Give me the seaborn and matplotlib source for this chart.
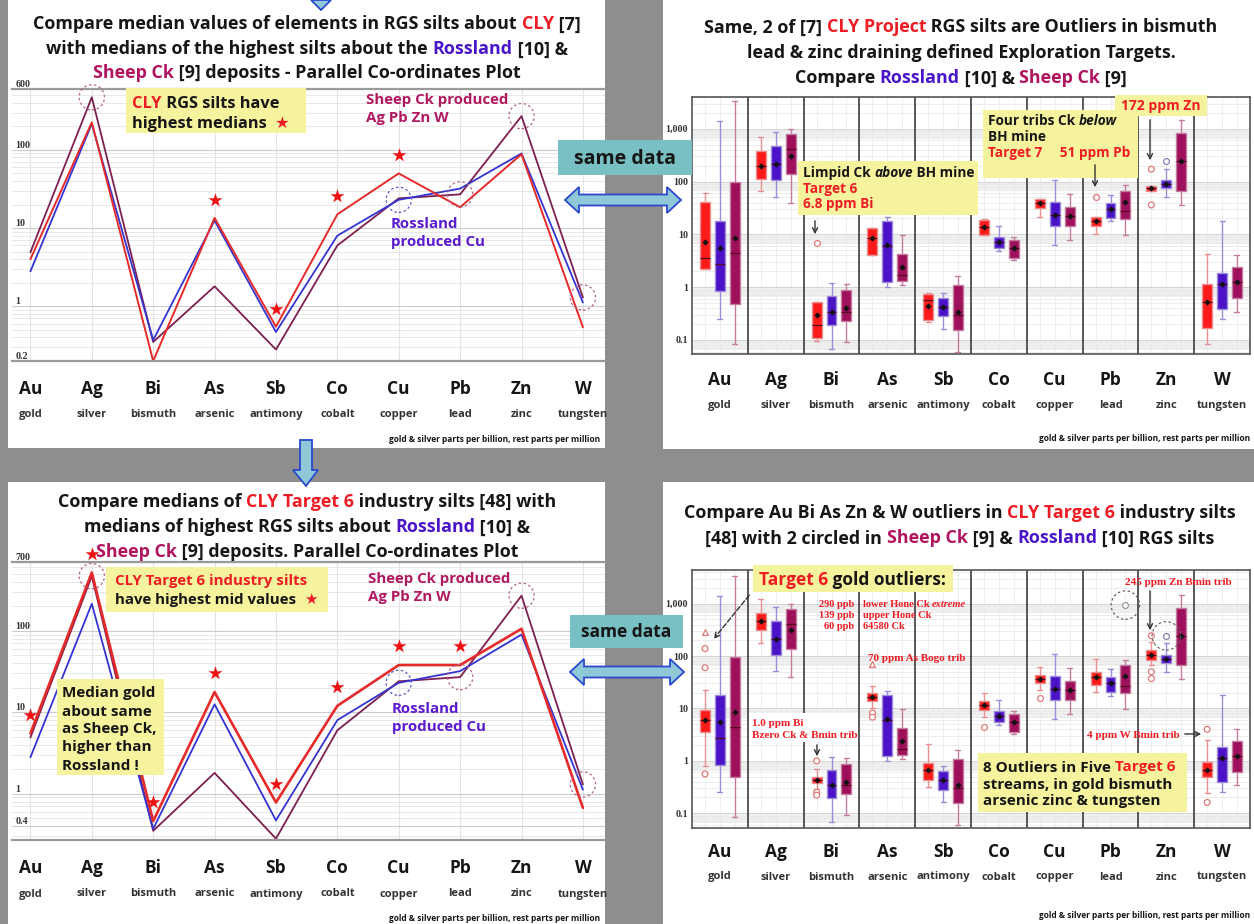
import numpy as np
import pandas as pd
import matplotlib
matplotlib.use("Agg")
import matplotlib.pyplot as plt
import seaborn as sns
from matplotlib.patches import Rectangle, Polygon, FancyArrowPatch
from matplotlib.transforms import blended_transform_factory
from matplotlib.ticker import FixedLocator, NullFormatter, LogLocator

# ---- values ----
elements = ["Au", "Ag", "Bi", "As", "Sb", "Co", "Cu", "Pb", "Zn", "W"]
element_names = ["gold", "silver", "bismuth", "arsenic", "antimony",
                 "cobalt", "copper", "lead", "zinc", "tungsten"]
sites = ["CLY", "Rossland", "Sheep Ck"]

# medians used in the parallel co-ordinates panels
cly_rgs_median = [4.0, 225, 0.2, 13.5, 0.55, 15, 50, 18.5, 88, 0.54]
cly_t6_median = [5.5, 520, 0.46, 17.7, 0.78, 12, 38, 38, 106, 0.67]
rossland_median = [2.8, 215, 0.37, 12.5, 0.47, 8.0, 23, 32, 90, 1.12]
sheep_median = [4.9, 470, 0.35, 1.8, 0.28, 6.0, 24, 27, 270, 1.3]

# box plots: whisker low, Q1, median, Q3, whisker high
cly_rgs_box = [[2.2, 2.2, 3.6, 41, 60], [66, 110, 198, 380, 690],
               [0.095, 0.11, 0.195, 0.53, 0.53], [4.0, 4.0, 8.4, 13.4, 13.4],
               [0.22, 0.24, 0.56, 0.73, 0.78], [9.6, 9.6, 13.6, 19, 19.5],
               [21, 31.6, 39, 47.5, 47.5], [10.2, 14.2, 17.6, 21, 21],
               [66, 66, 75, 81, 81], [0.083, 0.17, 0.53, 1.16, 4.3]]
cly_t6_box = [[0.8, 3.5, 5.9, 9.2, 22], [177, 318, 460, 660, 1230],
              [0.29, 0.37, 0.43, 0.49, 0.69], [10.2, 14, 16.7, 19.6, 27],
              [0.32, 0.43, 0.68, 0.89, 2.1], [6.9, 9.3, 11.6, 14, 19.4],
              [22.4, 30, 36, 43, 61], [21, 28, 39, 50, 87],
              [67, 83, 106, 130, 187], [0.24, 0.49, 0.68, 0.96, 2.5]]
rossland_box = [[0.25, 0.84, 2.7, 18, 1420], [52, 106, 215, 475, 875],
                [0.068, 0.195, 0.34, 0.67, 1.2], [1.0, 1.24, 6.0, 18, 21.6],
                [0.16, 0.28, 0.42, 0.63, 0.78], [4.8, 5.5, 7.1, 8.8, 14.2],
                [6.4, 14.2, 23.6, 41, 109], [17.6, 20.5, 30, 39, 56],
                [50, 74, 89, 106, 174], [0.25, 0.39, 1.14, 1.84, 17.7]]
sheep_box = [[0.084, 0.48, 4.5, 98, 3400], [39, 138, 410, 790, 985],
             [0.092, 0.23, 0.34, 0.88, 1.15], [1.09, 1.3, 1.7, 4.2, 9.6],
             [0.06, 0.155, 0.30, 1.1, 1.6], [3.3, 3.55, 5.5, 7.9, 8.8],
             [7.9, 14.2, 22, 33, 58], [9.6, 19.6, 27.3, 66, 85],
             [36, 67, 243, 835, 1450], [0.34, 0.61, 1.24, 2.36, 4.1]]

cly_rgs_mean = [7.1, 198, 0.29, 8.4, 0.44, 13.6, 39, 17.6, 75, 0.53]
cly_t6_mean = [5.9, 460, 0.43, 16.7, 0.68, 11.6, 36, 39, 106, 0.68]
rossland_mean = [5.6, 213, 0.34, 6.3, 0.42, 7.1, 23.6, 30, 89, 1.14]
sheep_mean = [8.4, 310, 0.40, 2.4, 0.34, 5.5, 22, 41, 243, 1.24]

cly_rgs_outliers = [("Bi", 6.8), ("Pb", 51), ("Zn", 172), ("Zn", 36)]
cly_t6_outliers = [("Au", 139), ("Au", 60), ("Au", 0.56), ("Bi", 1.0), ("Bi", 0.25),
                   ("Bi", 0.22), ("As", 8.1), ("As", 6.8), ("Co", 4.5), ("Cu", 15.5),
                   ("Zn", 245), ("Zn", 50), ("Zn", 37), ("W", 4.0), ("W", 0.16)]
cly_t6_extremes = [("Au", 290), ("As", 70)]
rossland_outliers = [("Zn", 243)]
sheep_outliers = [("Pb", 940)]

# ---- styling ----
W, H = 1254, 924
RED, BLUE, MAROON, BLACK = "#ee1c24", "#4a14c8", "#b0145e", "#161616"
FONT = ["Open Sans", "DejaVu Sans"]
line_colors = {"CLY": "#e62a2a", "Rossland": "#3434d2", "Sheep Ck": "#7d1f50"}
box_colors = {"CLY": "#ff1a1a", "Rossland": "#4b12c8", "Sheep Ck": "#9e0f5c"}
whisker_colors = {"CLY": "#e98f8f", "Rossland": "#9d8dd8", "Sheep Ck": "#c47c9e"}
flier_colors = {"CLY": "#e07a7a", "Rossland": "#8a80b0", "Sheep Ck": "#999999"}
circle_colors = {"Rossland": "#5a5ac8", "Sheep Ck": "#b2648a"}
YELLOW = "#f6f39e"

sns.set_theme(style="white")
plt.rcParams["font.family"] = FONT

fig = plt.figure(figsize=(W / 100, H / 100), dpi=100, facecolor="#8e8e8e")
renderer = fig.canvas.get_renderer()


def fx(x):
    return x / W


def fy(y):
    return 1 - y / H


def make_axes(x0, y0, x1, y1):
    return fig.add_axes([fx(x0), fy(y1), (x1 - x0) / W, (y1 - y0) / H])


def rect(x0, y0, x1, y1, color, z):
    fig.add_artist(Rectangle((fx(x0), fy(y1)), (x1 - x0) / W, (y1 - y0) / H,
                             transform=fig.transFigure, facecolor=color,
                             edgecolor="none", zorder=z))


def piece_width(s, size, style, family):
    t = fig.text(0, 0, s + "|", fontsize=size, fontweight="bold", fontstyle=style, family=family)
    w = t.get_window_extent(renderer).width
    t.set_text("|")
    w -= t.get_window_extent(renderer).width
    t.remove()
    return w


def rich(x, y, pieces, size, ha="left", family=FONT, z=6):
    pieces = [p if len(p) == 3 else (p[0], p[1], "normal") for p in pieces]
    widths = [piece_width(s, size, st, family) for s, c, st in pieces]
    total = sum(widths)
    if ha == "center":
        x -= total / 2
    elif ha == "right":
        x -= total
    base = y + 0.36 * size * 100 / 72
    for (s, c, st), w in zip(pieces, widths):
        fig.text(fx(x), fy(base), s, color=c, fontsize=size, fontweight="bold",
                 fontstyle=st, family=family, va="baseline", ha="left", zorder=z)
        x += w


def arrow(x0, y0, x1, y1, ls="-", color="#333333"):
    fig.add_artist(FancyArrowPatch((fx(x0), fy(y0)), (fx(x1), fy(y1)),
                                   transform=fig.transFigure, arrowstyle="->",
                                   mutation_scale=9, lw=1.0, ls=ls, color=color, zorder=6))


def shape(points, z=7):
    fig.add_artist(Polygon([(fx(a), fy(b)) for a, b in points], closed=True,
                           transform=fig.transFigure, facecolor="#8fc9d8",
                           edgecolor="#2b48d0", lw=1.3, zorder=z))


def double_arrow(x0, x1, yc, shaft=11, head=26, hl=14):
    shape([(x0, yc), (x0 + hl, yc - head / 2), (x0 + hl, yc - shaft / 2),
           (x1 - hl, yc - shaft / 2), (x1 - hl, yc - head / 2), (x1, yc),
           (x1 - hl, yc + head / 2), (x1 - hl, yc + shaft / 2),
           (x0 + hl, yc + shaft / 2), (x0 + hl, yc + head / 2)])


def element_labels(ax, sym_off, name_off):
    bt = blended_transform_factory(ax.transData, ax.transAxes)
    for i, (el, nm) in enumerate(zip(elements, element_names)):
        ax.annotate(el, (i, 0), xycoords=bt, xytext=(0, -sym_off), textcoords="offset pixels",
                    ha="center", va="center", fontsize=12.5, fontweight="bold",
                    color=BLACK, annotation_clip=False)
        ax.annotate(nm, (i, 0), xycoords=bt, xytext=(0, -name_off), textcoords="offset pixels",
                    ha="center", va="center", fontsize=8, fontweight="bold",
                    color="#333333", annotation_clip=False)


def parallel_panel(box, cly_values, ylim, ticks, tick_labels, star_elements, circled, red_lw):
    ax = make_axes(*box)
    order = ["Sheep Ck", "Rossland", "CLY"]
    long = pd.DataFrame({
        "pos": list(range(len(elements))) * 3,
        "site": np.repeat(order, len(elements)),
        "value": sheep_median + rossland_median + cly_values,
    })
    sns.lineplot(data=long, x="pos", y="value", hue="site", hue_order=order,
                 palette=line_colors, errorbar=None, linewidth=1.3, legend=False, ax=ax)
    ax.lines[-1].set_linewidth(red_lw)
    ax.set_yscale("log")
    ax.set_ylim(*ylim)
    ax.set_xlim(-0.3, 9.36)
    ax.set_xticks(range(len(elements)))
    ax.yaxis.set_major_locator(FixedLocator(ticks))
    ax.yaxis.set_minor_locator(LogLocator(subs=np.arange(2, 10)))
    ax.yaxis.set_minor_formatter(NullFormatter())
    ax.grid(axis="x", color="#e3e3e3", lw=0.8)
    ax.grid(axis="y", which="major", color="#cccccc", lw=0.8)
    ax.grid(axis="y", which="minor", color="#e4e4e4", lw=0.6)
    ax.tick_params(which="both", length=0, labelleft=False, labelbottom=False)
    ax.set_xlabel("")
    ax.set_ylabel("")
    for s in ["left", "right"]:
        ax.spines[s].set_visible(False)
    for s in ["top", "bottom"]:
        ax.spines[s].set_color("#9a9a9a")
        ax.spines[s].set_linewidth(1.6)
    yt = blended_transform_factory(ax.transAxes, ax.transData)
    for t, lab in zip(ticks, tick_labels):
        ax.text(0.006, t, lab, transform=yt, fontsize=7.2, fontweight="bold",
                family="Liberation Serif", va="bottom", ha="left", color="#333333")
    idx = [elements.index(e) for e in star_elements]
    ax.scatter(idx, [cly_values[i] * 1.7 for i in idx], marker="*", s=110,
               color="#ee1111", linewidths=0, zorder=5, clip_on=False)
    for el, site in circled:
        i = elements.index(el)
        v = (rossland_median if site == "Rossland" else sheep_median)[i]
        ax.scatter([i], [v], s=330, facecolors="none", edgecolors=circle_colors[site],
                   linestyle=(0, (2, 2)), linewidths=0.9, zorder=4, clip_on=False)
    return ax


def box_panel(box, cly_box, cly_mean, cly_fliers, cly_extremes, ylim):
    ax = make_axes(*box)
    for d in [0.1, 1, 10, 100, 1000]:
        ax.axhspan(d * 0.65, d, color="#f0f0f0", lw=0, zorder=0)
    box_sets = {"CLY": cly_box, "Rossland": rossland_box, "Sheep Ck": sheep_box}
    rows = [(el, site, v) for site in sites
            for el, five in zip(elements, box_sets[site]) for v in five]
    df = pd.DataFrame(rows, columns=["element", "site", "value"])
    for site in sites:
        sns.boxplot(data=df[df["site"] == site], x="element", y="value", hue="site",
                    order=elements, hue_order=sites, palette=box_colors, saturation=1,
                    dodge=True, width=0.8, gap=0.33, whis=(0, 100), showfliers=False,
                    linecolor=whisker_colors[site], linewidth=1.0, log_scale=True,
                    medianprops=dict(color="#5a0a1e", linewidth=0.9),
                    legend=False, ax=ax)
    means = pd.DataFrame({"element": elements * 3,
                          "site": np.repeat(sites, len(elements)),
                          "value": cly_mean + rossland_mean + sheep_mean})
    sns.stripplot(data=means, x="element", y="value", hue="site", order=elements,
                  hue_order=sites, palette={s: "#111111" for s in sites}, dodge=True,
                  jitter=False, size=3.2, marker="D", log_scale=True, legend=False,
                  ax=ax, zorder=5)
    flier_sets = {"CLY": cly_fliers, "Rossland": rossland_outliers, "Sheep Ck": sheep_outliers}
    for site in sites:
        fl = pd.DataFrame(flier_sets[site], columns=["element", "value"])
        fl["site"] = site
        sns.stripplot(data=fl, x="element", y="value", hue="site", order=elements,
                      hue_order=sites, palette={s: "white" for s in sites}, dodge=True,
                      jitter=False, size=4.2, linewidth=0.9, edgecolor=flier_colors[site],
                      log_scale=True, legend=False, ax=ax, zorder=5)
    if cly_extremes:
        ex = pd.DataFrame(cly_extremes, columns=["element", "value"])
        ex["site"] = "CLY"
        sns.stripplot(data=ex, x="element", y="value", hue="site", order=elements,
                      hue_order=sites, palette={s: "white" for s in sites}, dodge=True,
                      jitter=False, size=4.2, marker="^", linewidth=0.9,
                      edgecolor=flier_colors["CLY"], log_scale=True, legend=False,
                      ax=ax, zorder=5)
    ax.set_xlim(-0.5, 9.5)
    ax.set_ylim(*ylim)
    step = 0.8 / 3
    for i in range(len(elements)):
        for off in (-step, 0, step):
            ax.axvline(i + off, color="#ececec", lw=0.6, zorder=0)
        if i:
            ax.axvline(i - 0.5, color="#3c3c3c", lw=1.2, zorder=1)
    ax.set_yticks([0.1, 1, 10, 100, 1000])
    ax.set_yticklabels(["0.1", "1", "10", "100", "1,000"], fontsize=7.2,
                       fontweight="bold", family="Liberation Serif", color="#333333")
    ax.yaxis.set_minor_locator(LogLocator(subs=np.arange(2, 10)))
    ax.yaxis.set_minor_formatter(NullFormatter())
    ax.grid(axis="y", which="major", color="#d4d4d4", lw=0.7)
    ax.grid(axis="y", which="minor", color="#e6e6e6", lw=0.5)
    ax.grid(axis="x", visible=False)
    ax.set_xticks(range(len(elements)))
    ax.tick_params(which="both", length=0, pad=3, labelbottom=False)
    ax.set_xlabel("")
    ax.set_ylabel("")
    for s in ax.spines.values():
        s.set_color("#555555")
        s.set_linewidth(1.2)
    return ax


# ---- panel backgrounds ----
rect(8, 0, 605, 448, "white", -1)
rect(663, 0, 1254, 449, "white", -1)
rect(8, 482, 605, 924, "white", -1)
rect(663, 482, 1254, 924, "white", -1)

TS = 12.9  # title size

# ---- top left: RGS medians ----
ax_tl = parallel_panel((12, 89, 605, 361), cly_rgs_median, (0.2, 600),
                       [0.2, 1, 10, 100, 600], ["0.2", "1", "10", "100", "600"],
                       ["As", "Sb", "Co", "Cu"],
                       [("Ag", "Sheep Ck"), ("Cu", "Rossland"), ("Pb", "Sheep Ck"),
                        ("Zn", "Sheep Ck"), ("W", "Sheep Ck")], 1.4)
element_labels(ax_tl, 28, 53)
rich(307, 23, [("Compare median values of elements in RGS silts about ", BLACK), ("CLY", RED), (" [7]", BLACK)], TS, "center")
rich(307, 48, [("with medians of the highest silts about the ", BLACK), ("Rossland", BLUE), (" [10] &", BLACK)], TS, "center")
rich(307, 72, [("Sheep Ck", MAROON), (" [9] deposits - Parallel Co-ordinates Plot", BLACK)], TS, "center")
rect(126, 88, 306, 133, YELLOW, 4)
rich(132, 102, [("CLY", RED), (" RGS silts have", BLACK)], 11.8)
rich(132, 122, [("highest medians  ", BLACK), ("\u2605", RED)], 11.8)
rich(366, 99, [("Sheep Ck produced", "#b0185f")], 10.8)
rich(366, 117, [("Ag Pb Zn W", "#b0185f")], 10.8)
rich(391, 223, [("Rossland", "#5c1ad0")], 10.8)
rich(391, 241, [("produced Cu", "#5c1ad0")], 10.8)
rich(600, 439, [("gold & silver parts per billion, rest parts per million", BLACK)], 6, "right")

# ---- bottom left: Target 6 medians ----
ax_bl = parallel_panel((12, 562, 605, 840), cly_t6_median, (0.27, 700),
                       [0.4, 1, 10, 100, 700], ["0.4", "1", "10", "100", "700"],
                       ["Au", "Ag", "Bi", "As", "Sb", "Co", "Cu", "Pb"],
                       [("Ag", "Sheep Ck"), ("Cu", "Rossland"), ("Pb", "Sheep Ck"),
                        ("Zn", "Sheep Ck"), ("W", "Sheep Ck")], 1.9)
element_labels(ax_bl, 28, 54)
rich(307, 501, [("Compare medians of ", BLACK), ("CLY Target 6", RED), (" industry silts [48] with", BLACK)], TS, "center")
rich(307, 526, [("medians of highest RGS silts about ", BLACK), ("Rossland", BLUE), (" [10] &", BLACK)], TS, "center")
rich(307, 551, [("Sheep Ck", MAROON), (" [9] deposits. Parallel Co-ordinates Plot", BLACK)], TS, "center")
rect(106, 567, 328, 612, YELLOW, 4)
rich(115, 580, [("CLY Target 6 industry silts", RED)], 10.8)
rich(115, 599, [("have highest mid values  ", BLACK), ("\u2605", RED)], 10.8)
rich(368, 578, [("Sheep Ck produced", "#b0185f")], 10.8)
rich(368, 596, [("Ag Pb Zn W", "#b0185f")], 10.8)
rect(57, 679, 164, 775, YELLOW, 4)
for k, line in enumerate(["Median gold", "about same", "as Sheep Ck,", "higher than", "Rossland !"]):
    rich(62, 692 + 18 * k, [(line, BLACK)], 11)
rich(392, 708, [("Rossland", "#5c1ad0")], 10.8)
rich(392, 726, [("produced Cu", "#5c1ad0")], 10.8)
rich(600, 918, [("gold & silver parts per billion, rest parts per million", BLACK)], 6, "right")

# ---- top right: RGS box plots ----
ax_tr = box_panel((692, 97, 1250, 354), cly_rgs_box, cly_rgs_mean, cly_rgs_outliers, [], (0.054, 4000))
element_labels(ax_tr, 26, 51)
rich(961, 26, [("Same, 2 of [7] ", BLACK), ("CLY Project", RED), (" RGS silts are Outliers in bismuth", BLACK)], TS, "center")
rich(961, 52, [("lead & zinc draining defined Exploration Targets.", BLACK)], TS, "center")
rich(961, 77, [("Compare ", BLACK), ("Rossland", BLUE), (" [10] & ", BLACK), ("Sheep Ck", MAROON), (" [9]", BLACK)], TS, "center")
rect(798, 161, 978, 215, YELLOW, 4)
rich(803, 172, [("Limpid Ck ", BLACK), ("above", BLACK, "italic"), (" BH mine", BLACK)], 9.8)
rich(803, 188, [("Target 6", RED)], 9.8)
rich(803, 203, [("6.8 ppm Bi", RED)], 9.8)
arrow(815, 218, 815, 237)
rect(983, 110, 1138, 178, YELLOW, 4)
rich(988, 120, [("Four tribs Ck ", BLACK), ("below", BLACK, "italic")], 9.8)
rich(988, 136, [("BH mine", BLACK)], 9.8)
rich(988, 152, [("Target 7     51 ppm Pb", RED)], 9.8)
arrow(1095, 162, 1095, 190)
rect(1115, 95, 1207, 116, YELLOW, 4)
rich(1161, 105, [("172 ppm Zn", RED)], 10, "center")
arrow(1150, 117, 1150, 163)
rich(1250, 438, [("gold & silver parts per billion, rest parts per million", BLACK)], 6, "right")

# ---- bottom right: Target 6 box plots ----
ax_br = box_panel((692, 570, 1250, 828), cly_t6_box, cly_t6_mean, cly_t6_outliers, cly_t6_extremes, (0.052, 4400))
element_labels(ax_br, 24, 49)
step = 0.8 / 3
ax_br.scatter([elements.index("Pb") + step, elements.index("Zn")],
              [sheep_outliers[0][1], rossland_outliers[0][1]], s=420, facecolors="none",
              edgecolors="#666666", linestyle=(0, (2, 2)), linewidths=0.9, zorder=6)
rich(960, 512, [("Compare Au Bi As Zn & W outliers in ", BLACK), ("CLY Target 6", RED), (" industry silts", BLACK)], TS, "center")
rich(960, 537, [("[48] with 2 circled in ", BLACK), ("Sheep Ck", MAROON), (" [9] & ", BLACK), ("Rossland", BLUE), (" [10] RGS silts", BLACK)], TS, "center")
rect(753, 565, 953, 592, YELLOW, 4)
rich(759, 579, [("Target 6", RED), (" gold outliers:", BLACK)], 12.5)
arrow(751, 593, 712, 641, ls="--")
SERIF = ["Liberation Serif", "DejaVu Serif"]
for k, (val, where) in enumerate([("290 ppb", "lower Hone Ck "), ("139 ppb", "upper Hone Ck"), ("60 ppb", "64580 Ck")]):
    rich(854, 603 + 11 * k, [(val, RED)], 7.5, "right", family=SERIF)
    pcs = [(where, RED)] + ([("extreme", RED, "italic")] if k == 0 else [])
    rich(863, 603 + 11 * k, pcs, 7.5, family=SERIF)
rich(868, 657, [("70 ppm As Bogo trib", RED)], 8, family=SERIF)
rect(749, 713, 858, 742, "white", 4)
rich(752, 722, [("1.0 ppm Bi", RED)], 8, family=SERIF)
rich(752, 734, [("Bzero Ck & Bmin trib", RED)], 8, family=SERIF)
arrow(817, 742, 817, 759)
rich(1125, 581, [("245 ppm Zn Bmin trib", RED)], 8, family=SERIF)
arrow(1150, 588, 1150, 633)
rich(1087, 734, [("4 ppm W Bmin trib", RED)], 8, family=SERIF)
arrow(1182, 734, 1204, 734)
rect(978, 753, 1187, 812, YELLOW, 4)
rich(983, 766, [("8 Outliers in Five ", BLACK), ("Target 6", RED)], 11)
rich(983, 783, [("streams, in gold bismuth", BLACK)], 11)
rich(983, 800, [("arsenic zinc & tungsten", BLACK)], 11)
rich(1250, 915, [("gold & silver parts per billion, rest parts per million", BLACK)], 6, "right")

# ---- connectors ----
rect(558, 140, 692, 175, "#78c0c3", 7)
rich(625, 157, [("same data", BLACK)], 14, "center", z=8)
double_arrow(565, 681, 200)
rect(570, 615, 683, 648, "#78c0c3", 7)
rich(626, 631, [("same data", BLACK)], 12.5, "center", z=8)
double_arrow(570, 684, 672)
shape([(300, 440), (312, 440), (312, 470), (318, 470), (306, 486), (293, 470), (300, 470)])
shape([(311, 0), (331, 0), (321, 10)])

fig.savefig("out.png", dpi=100, facecolor=fig.get_facecolor())
